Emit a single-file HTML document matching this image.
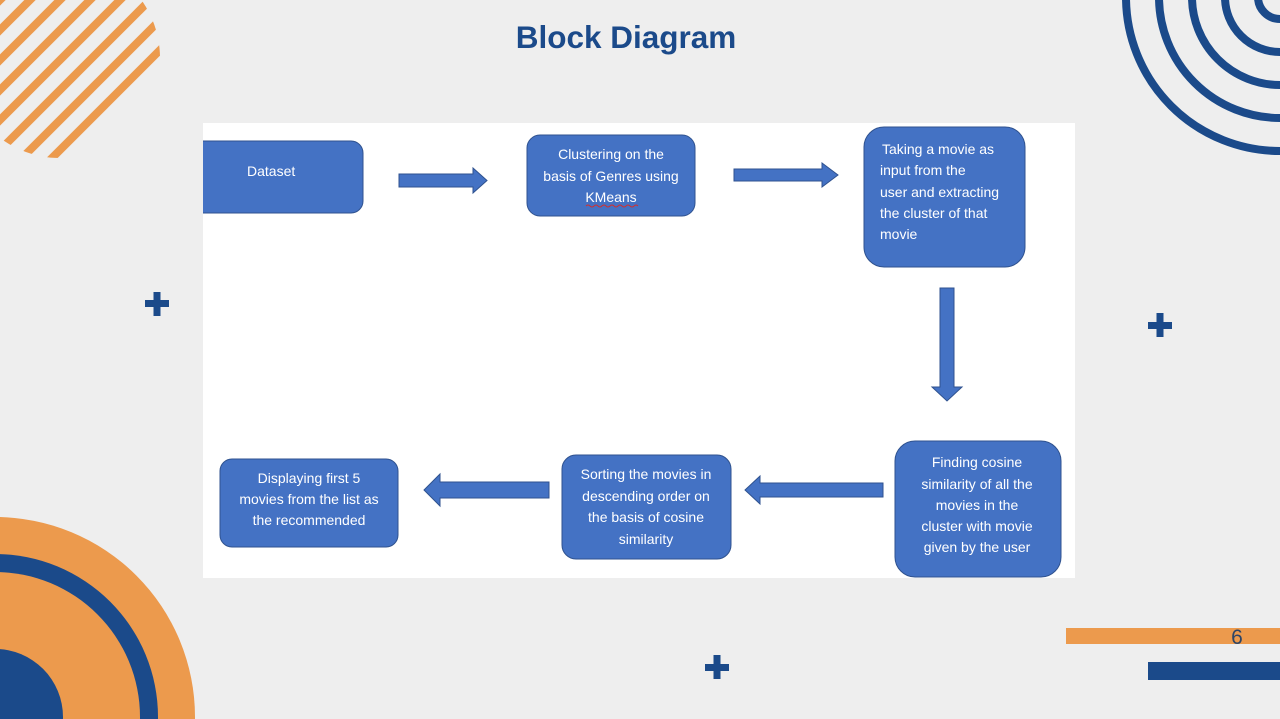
<!DOCTYPE html>
<html><head><meta charset="utf-8"><style>
html,body{margin:0;padding:0;background:#eeeeee;overflow:hidden;width:1280px;height:719px;}
svg{display:block;}
.t{font-family:"Liberation Sans",sans-serif;font-size:14px;fill:#fff;}
</style></head><body>
<svg width="1280" height="719" viewBox="0 0 1280 719" xmlns="http://www.w3.org/2000/svg">
<rect width="1280" height="719" fill="#eeeeee"/>
<defs>
<clipPath id="c1"><circle cx="60" cy="58" r="100"/></clipPath>
<clipPath id="c2"><rect x="203" y="100" width="300" height="150"/></clipPath>
</defs>
<g clip-path="url(#c1)" stroke="#ec9a4d" stroke-width="8">
<line x1="-200" y1="50" x2="100" y2="-250"/>
<line x1="-200" y1="80" x2="130" y2="-250"/>
<line x1="-200" y1="110" x2="160" y2="-250"/>
<line x1="-200" y1="140" x2="190" y2="-250"/>
<line x1="-200" y1="170" x2="220" y2="-250"/>
<line x1="-200" y1="200" x2="250" y2="-250"/>
<line x1="-200" y1="230" x2="280" y2="-250"/>
<line x1="-200" y1="260" x2="310" y2="-250"/>
<line x1="-200" y1="290" x2="340" y2="-250"/>
<line x1="-200" y1="320" x2="370" y2="-250"/>
<line x1="-200" y1="350" x2="400" y2="-250"/>
<line x1="-200" y1="380" x2="430" y2="-250"/>
<line x1="-200" y1="410" x2="460" y2="-250"/>
</g>
<g fill="none" stroke="#1b4a8a" stroke-width="8">
<circle cx="1280" cy="-3" r="154"/>
<circle cx="1280" cy="-3" r="121"/>
<circle cx="1280" cy="-3" r="88"/>
<circle cx="1280" cy="-3" r="55"/>
<circle cx="1280" cy="-3" r="22"/>
</g>
<circle cx="-5" cy="717" r="200" fill="#ec9a4d"/>
<circle cx="-5" cy="717" r="163" fill="#1b4a8a"/>
<circle cx="-5" cy="717" r="145" fill="#ec9a4d"/>
<circle cx="-5" cy="717" r="68" fill="#1b4a8a"/>
<rect x="1066" y="628" width="214" height="16" fill="#ec9a4d"/>
<rect x="1148" y="662" width="132" height="18" fill="#1b4a8a"/>
<text x="1237" y="644" font-family="Liberation Sans,sans-serif" font-size="21" fill="#2d4566" text-anchor="middle">6</text>
<g fill="#1b4a8a">
<rect x="145" y="300" width="24" height="7"/><rect x="153.5" y="292" width="7" height="24"/>
<rect x="1148" y="322" width="24" height="7"/><rect x="1156.5" y="313" width="7" height="24"/>
<rect x="705" y="664" width="24" height="7"/><rect x="713.5" y="655" width="7" height="24"/>
</g>
<text x="626" y="48" text-anchor="middle" font-family="Liberation Sans,sans-serif" font-weight="bold" font-size="31.5" fill="#1b4a8a">Block Diagram</text>
<rect x="203" y="123" width="872" height="455" fill="#ffffff"/>
<g fill="#4472c4" stroke="#2f528f" stroke-width="1">
<rect x="190" y="141" width="173" height="72" rx="12" clip-path="url(#c2)"/>
<rect x="527" y="135" width="168" height="81" rx="13"/>
<rect x="864" y="127" width="161" height="140" rx="20"/>
<rect x="895" y="441" width="166" height="136" rx="20"/>
<rect x="562" y="455" width="169" height="104" rx="14"/>
<rect x="220" y="459" width="178" height="88" rx="12"/>
</g>
<g fill="#4472c4" stroke="#2f528f" stroke-width="1">
<polygon points="399,174 473,174 473,168 487,180.5 473,193 473,187 399,187"/>
<polygon points="734,169 822,169 822,163 838,175 822,187 822,181 734,181"/>
<polygon points="940,288 954,288 954,387 962,387 947,401 932,387 940,387"/>
<polygon points="883,483 760,483 760,476 745,490 760,504 760,497 883,497"/>
<polygon points="549,482 440,482 440,474 424,490 440,506 440,498 549,498"/>
</g>
<text class="t" x="247" y="176">Dataset</text>
<g class="t" text-anchor="middle">
<text x="611" y="159">Clustering on the</text>
<text x="611" y="181">basis of Genres using</text>
<text x="611" y="202">KMeans</text>
</g>
<path d="M586 206 q2 -2 4 0 t4 0 t4 0 t4 0 t4 0 t4 0 t4 0 t4 0 t4 0 t4 0 t4 0 t4 0 t4 0" stroke="#d03030" fill="none" stroke-width="1"/>
<g class="t">
<text x="882" y="154">Taking a movie as</text>
<text x="880" y="175">input from the</text>
<text x="880" y="197">user and extracting</text>
<text x="880" y="218">the cluster of that</text>
<text x="880" y="239">movie</text>
</g>
<g class="t" text-anchor="middle">
<text x="977" y="467">Finding cosine</text>
<text x="977" y="489">similarity of all the</text>
<text x="977" y="510">movies in the</text>
<text x="977" y="531">cluster with movie</text>
<text x="977" y="552">given by the user</text>
<text x="646" y="479">Sorting the movies in</text>
<text x="646" y="501">descending order on</text>
<text x="646" y="522">the basis of cosine</text>
<text x="646" y="544">similarity</text>
<text x="309" y="483">Displaying first 5</text>
<text x="309" y="504">movies from the list as</text>
<text x="309" y="525">the recommended</text>
</g>
</svg>
</body></html>
